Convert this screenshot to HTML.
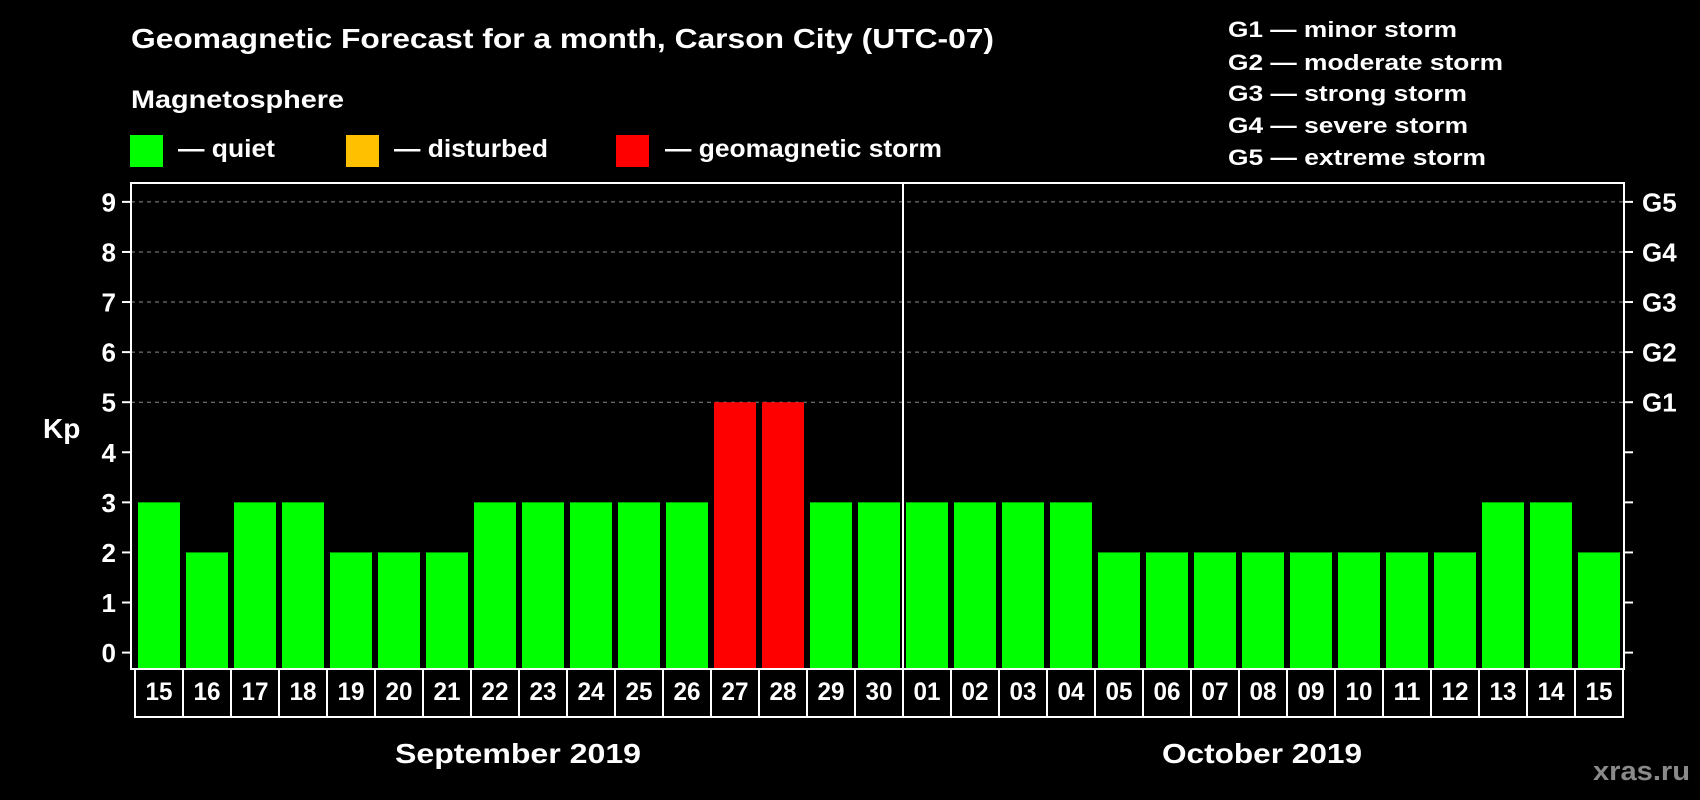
<!DOCTYPE html>
<html><head><meta charset="utf-8"><style>
html,body{margin:0;padding:0;background:#000;width:1700px;height:800px;overflow:hidden}
svg{display:block;font-family:"Liberation Sans",Arial,sans-serif;font-weight:bold}
</style></head><body>
<svg id="chart" width="1700" height="800" viewBox="0 0 1700 800">
<rect x="0" y="0" width="1700" height="800" fill="#000"/>
<text x="131" y="48" font-size="28" fill="#fff" textLength="863" lengthAdjust="spacingAndGlyphs">Geomagnetic Forecast for a month, Carson City (UTC-07)</text>
<text x="131" y="108" font-size="25" fill="#fff" textLength="213" lengthAdjust="spacingAndGlyphs">Magnetosphere</text>
<rect x="130" y="135" width="33" height="32" fill="#00ff00"/>
<text x="178" y="157" font-size="25" fill="#fff" textLength="97" lengthAdjust="spacingAndGlyphs">— quiet</text>
<rect x="346" y="135" width="33" height="32" fill="#ffc000"/>
<text x="394" y="157" font-size="25" fill="#fff" textLength="154" lengthAdjust="spacingAndGlyphs">— disturbed</text>
<rect x="616" y="135" width="33" height="32" fill="#ff0000"/>
<text x="665" y="157" font-size="25" fill="#fff" textLength="277" lengthAdjust="spacingAndGlyphs">— geomagnetic storm</text>
<g font-size="22" fill="#fff">
<text x="1228" y="37" textLength="229" lengthAdjust="spacingAndGlyphs">G1 — minor storm</text>
<text x="1228" y="70" textLength="275" lengthAdjust="spacingAndGlyphs">G2 — moderate storm</text>
<text x="1228" y="101" textLength="239" lengthAdjust="spacingAndGlyphs">G3 — strong storm</text>
<text x="1228" y="133" textLength="240" lengthAdjust="spacingAndGlyphs">G4 — severe storm</text>
<text x="1228" y="165" textLength="258" lengthAdjust="spacingAndGlyphs">G5 — extreme storm</text>
</g>
<text x="43" y="438" font-size="28" fill="#fff">Kp</text>
<g id="grid"></g><g id="bars"></g><g id="axes"></g><g id="dates"></g>
<text x="395" y="763" font-size="28" fill="#fff" textLength="246" lengthAdjust="spacingAndGlyphs">September 2019</text>
<text x="1162" y="763" font-size="28" fill="#fff" textLength="200" lengthAdjust="spacingAndGlyphs">October 2019</text>
<text x="1593" y="780" font-size="27" fill="#8a8a8a" textLength="97" lengthAdjust="spacingAndGlyphs">xras.ru</text>
</svg>
<script>
const days = ["15","16","17","18","19","20","21","22","23","24","25","26","27","28","29","30","01","02","03","04","05","06","07","08","09","10","11","12","13","14","15"];
const kpValues = [3,2,3,3,2,2,2,3,3,3,3,3,5,5,3,3,3,3,3,3,2,2,2,2,2,2,2,2,3,3,2];
const yTicks = [0,1,2,3,4,5,6,7,8,9];
const gLabels = ["G1","G2","G3","G4","G5"];
const gLevels = [5,6,7,8,9];
const monthBreakIndex = 16;

const NS = "http://www.w3.org/2000/svg";
const plotL = 131, plotR = 1624, plotT = 183, plotB = 669;
const cellL = 135, cellW = 48, barW = 42;
const y0 = 652.6, yUnit = 50.08;
function yScale(v){ return y0 - v * yUnit; }
function xCell(i){ return cellL + i * cellW; }
function mk(tag, attrs, parent){
  const e = document.createElementNS(NS, tag);
  for (const k in attrs) e.setAttribute(k, attrs[k]);
  parent.appendChild(e); return e;
}
function colorFor(v){ return v >= 5 ? "#ff0000" : (v >= 4 ? "#ffc000" : "#00ff00"); }

const grid = document.getElementById("grid");
gLevels.forEach(function(l){
  const ln = mk("line", {x1: plotL, x2: plotR, y1: yScale(l), y2: yScale(l), stroke: "#8a8a8a", "stroke-width": 1, "stroke-dasharray": "4,4"}, grid);
  
  
});

const bars = document.getElementById("bars");
kpValues.forEach(function(v, i){
  const top = yScale(v);
  const r = mk("rect", {x: xCell(i) + 3, y: top, width: barW, height: plotB - top, fill: colorFor(v)}, bars);
  
  
});

const axes = document.getElementById("axes");
const frame = mk("rect", {x: plotL, y: plotT, width: plotR - plotL, height: plotB - plotT, fill: "none", stroke: "#fff", "stroke-width": 2}, axes);


const sep = mk("line", {x1: xCell(monthBreakIndex), x2: xCell(monthBreakIndex), y1: plotT, y2: plotB, stroke: "#fff", "stroke-width": 2}, axes);


yTicks.forEach(function(t){
  const yy = yScale(t);
  const tl = mk("line", {x1: plotL - 9, x2: plotL, y1: yy, y2: yy, stroke: "#fff", "stroke-width": 2}, axes);
  
  
  const tr = mk("line", {x1: plotR, x2: plotR + 9, y1: yy, y2: yy, stroke: "#fff", "stroke-width": 2}, axes);
  
  
  const lab = mk("text", {x: 116, y: yy + 9.5, "font-size": 26, fill: "#fff", "text-anchor": "end"}, axes);
  lab.textContent = String(t);
  
  
});
gLabels.forEach(function(g, i){
  const lab = mk("text", {x: 1642, y: yScale(gLevels[i]) + 9.5, "font-size": 26, fill: "#fff"}, axes);
  lab.textContent = g;
  
  
});

const dates = document.getElementById("dates");
days.forEach(function(d, i){
  const c = mk("rect", {x: xCell(i), y: plotB, width: cellW, height: 48, fill: "#000", stroke: "#fff", "stroke-width": 2}, dates);
  
  
  const t = mk("text", {x: xCell(i) + cellW / 2, y: 700, "font-size": 25, fill: "#fff", "text-anchor": "middle", textLength: 27, lengthAdjust: "spacingAndGlyphs"}, dates);
  t.textContent = d;
  
  
});
</script>
</body></html>
